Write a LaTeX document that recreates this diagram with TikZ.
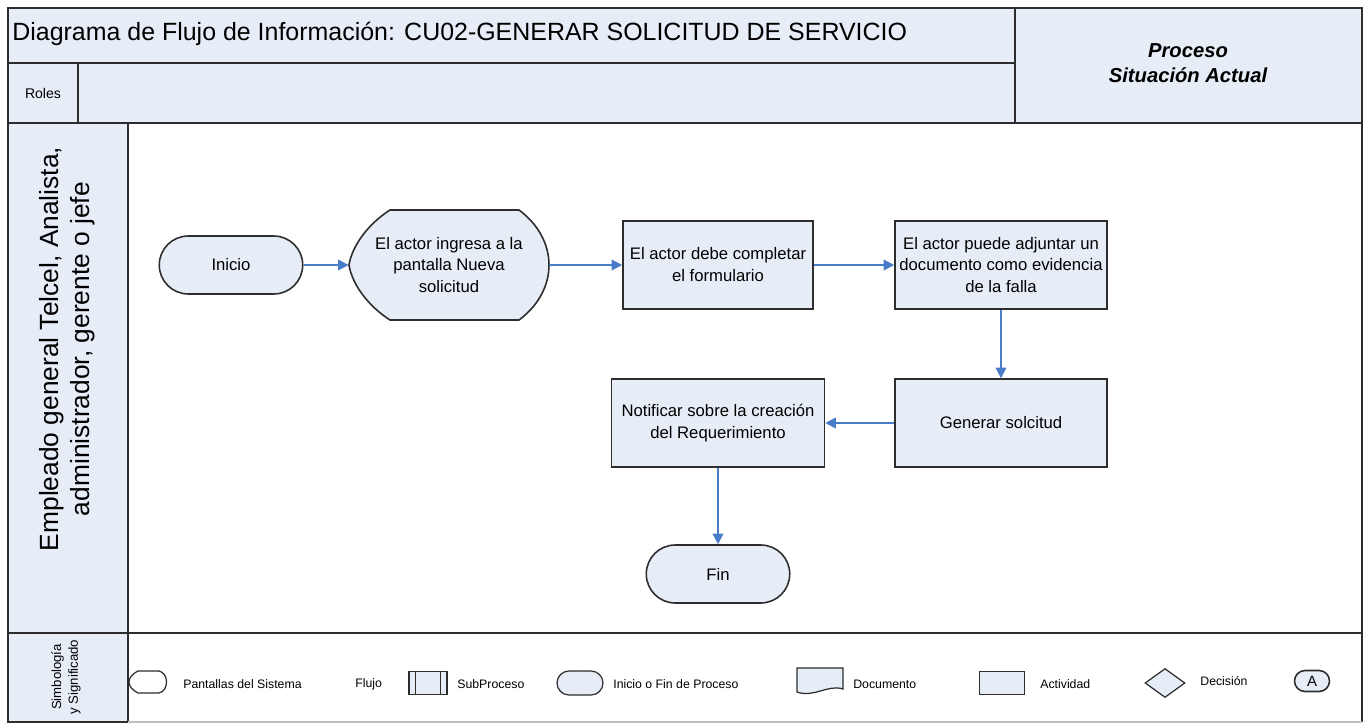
\documentclass[tikz,border=0pt]{standalone}
\usepackage{fontspec}
\setmainfont{Liberation Sans}
\usetikzlibrary{arrows.meta,shapes.geometric,shapes.misc,positioning}
\definecolor{FillClr}{RGB}{231,237,247}
\definecolor{FlowClr}{RGB}{72,124,200}
\definecolor{LineClr}{RGB}{45,45,45}

\begin{document}
\begin{tikzpicture}[x=0.02cm,y=-0.02cm,
  celda/.style={draw=LineClr,fill=FillClr,line width=0.9pt},
  actividad/.style={celda,minimum width=3.8cm,minimum height=1.76cm,inner sep=1pt,
    align=center,font=\fontsize{9.5}{12.5}\selectfont},
  terminal/.style={celda,rounded rectangle,minimum width=2.94cm,minimum height=1.16cm,
    inner sep=1pt,font=\fontsize{9.5}{12.5}\selectfont},
  flujo/.style={draw=FlowClr,line width=0.9pt,-{Triangle[length=6pt,width=6pt]}},
  ley/.style={font=\fontsize{7}{8}\selectfont,anchor=west,inner sep=0pt},
  leyfig/.style={draw=LineClr,fill=FillClr,line width=0.7pt,inner sep=0pt}]
\useasboundingbox (0,0) rectangle (1368,726);

% encabezado
\draw[celda] (8,8) rectangle (1015,63);
\draw[celda] (8,63) rectangle (78,123);
\draw[celda] (78,63) rectangle (1015,123);
\draw[celda] (1015,8) rectangle (1362,123);
\node[anchor=west,inner sep=0pt,font=\fontsize{14.2}{16}\selectfont] (titulo) at (12,34)
  {Diagrama de Flujo de Información: CU02-GENERAR SOLICITUD DE SERVICIO};
\node[font=\fontsize{8}{10}\selectfont] (roles) at (43,93) {Roles};
\node[align=center,font=\fontsize{11.5}{14}\bfseries\itshape\selectfont] (proceso) at (1188,63)
  {Proceso\\Situación Actual};

% carril
\draw[celda] (8,123) rectangle (128,633);
\draw[draw=LineClr,line width=0.9pt,fill=white] (128,123) rectangle (1362,633);
\node[rotate=90,align=center,font=\fontsize{15}{18}\selectfont] (rol) at (67,349)
  {Empleado general Telcel, Analista,\\administrador, gerente o jefe};

% pantalla
\draw[celda] (390,210) -- (519,210) .. controls (538,224) and (549,244) .. (549,265)
  .. controls (549,286) and (538,306) .. (519,320) -- (390,320)
  .. controls (368,306) and (352,284) .. (349,265)
  .. controls (352,246) and (368,224) .. (390,210) -- cycle;
\node[inner sep=0pt,minimum width=4cm,minimum height=2.2cm,align=center,
  font=\fontsize{9.5}{12.5}\selectfont] (pantalla) at (449,265)
  {El actor ingresa a la\\pantalla Nueva\\solicitud};

\node[terminal] (inicio) at (231,265) {Inicio};
\node[actividad] (completar) at (718,265) {El actor debe completar\\el formulario};
\node[actividad,minimum width=4.24cm] (adjuntar) at (1001,265)
  {El actor puede adjuntar un\\documento como evidencia\\de la falla};
\node[actividad,minimum width=4.24cm] (generar) at (1001,423) {Generar solcitud};
\node[actividad,minimum width=4.26cm] (notificar) at (718,423)
  {Notificar sobre la creación\\del Requerimiento};
\node[terminal] (fin) at (718,574) {Fin};

\draw[flujo] (inicio) -- (pantalla);
\draw[flujo] (pantalla) -- (completar);
\draw[flujo] (completar) -- (adjuntar);
\draw[flujo] (adjuntar) -- (generar);
\draw[flujo] (generar) -- (notificar);
\draw[flujo] (notificar) -- (fin);

% simbologia
\draw[celda] (8,633) rectangle (128,722);
\draw[draw=LineClr,line width=0.9pt,fill=white] (128,633) -- (1362,633) -- (1362,722);
\draw[draw=black!25,line width=0.6pt] (128,722) -- (1362,722);
\node[rotate=90,align=center,font=\fontsize{7.5}{9.5}\selectfont] (simb) at (66,677)
  {Simbología\\y Significado};

\draw[draw=LineClr,line width=0.7pt,fill=white] (138,671) -- (159,671)
  .. controls (169,673) and (169,691) .. (159,693) -- (138,693)
  .. controls (132,690) and (129,686) .. (129,682)
  .. controls (129,678) and (132,674) .. (138,671) -- cycle;
\node[ley] (leypant) at (183,684) {Pantallas del Sistema};
\node[ley] (leyflujo) at (355,684) {Flujo};

\node[leyfig,minimum width=0.76cm,minimum height=0.46cm] (subp) at (428,683) {};
\draw[draw=LineClr,line width=0.7pt] ([xshift=0.14cm]subp.north west) -- ([xshift=0.14cm]subp.south west);
\draw[draw=LineClr,line width=0.7pt] ([xshift=-0.14cm]subp.north east) -- ([xshift=-0.14cm]subp.south east);
\node[ley] (leysubp) at (457,684) {SubProceso};

\node[leyfig,rounded rectangle,minimum width=0.92cm,minimum height=0.48cm] (term) at (580,683) {};
\node[ley] (leyterm) at (613,684) {Inicio o Fin de Proceso};

\draw[draw=LineClr,line width=0.7pt,fill=FillClr] (797,668) -- (843,668) -- (843,689)
  .. controls (828,684) and (814,698) .. (797,692) -- cycle;
\node[ley] (leydoc) at (853,684) {Documento};

\node[leyfig,minimum width=0.9cm,minimum height=0.46cm] (act) at (1002,683) {};
\node[ley] (leyact) at (1040,684) {Actividad};

\node[leyfig,diamond,minimum width=0.8cm,minimum height=0.58cm] (dec) at (1165,683) {};
\node[ley] (leydec) at (1200,681) {Decisión};

\node[leyfig,rounded rectangle,line width=0.9pt,minimum width=0.7cm,minimum height=0.42cm,
  font=\fontsize{8.5}{9}\selectfont] (conector) at (1312,681) {A};
\end{tikzpicture}
\end{document}
